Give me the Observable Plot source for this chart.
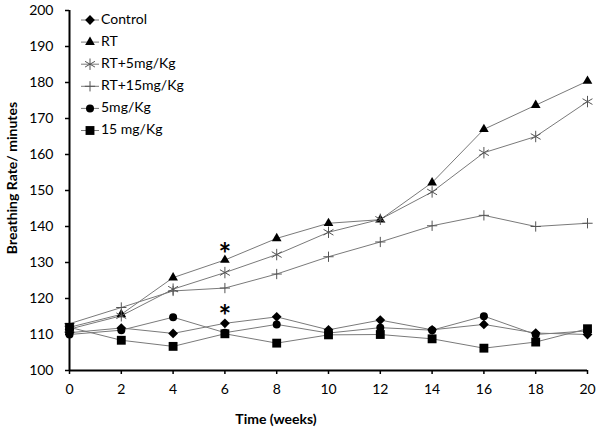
<!DOCTYPE html>
<html><head><meta charset="utf-8">
<script src="https://cdn.jsdelivr.net/npm/d3@7"></script>
<script src="https://cdn.jsdelivr.net/npm/@observablehq/plot@0.6"></script>
<style>body{margin:0;background:#fff}</style>
</head><body><div id="chart"></div>
<script>
const weeks = [0, 2, 4, 6, 8, 10, 12, 14, 16, 18, 20];
const control   = [110.5, 111.8, 110.3, 113.1, 114.9, 111.3, 114.0, 111.3, 112.8, 110.4, 110.0];
const rt        = [112.0, 115.6, 125.8, 130.7, 136.7, 140.9, 141.9, 152.2, 167.0, 173.7, 180.4];
const rt5       = [111.5, 115.2, 122.6, 127.2, 132.2, 138.4, 142.0, 149.6, 160.5, 165.0, 174.7];
const rt15      = [113.0, 117.5, 122.1, 122.9, 126.8, 131.6, 135.7, 140.2, 143.1, 140.0, 140.9];
const mg5       = [110.0, 111.2, 114.8, 110.5, 112.8, 110.4, 111.9, 111.2, 115.1, 110.0, 111.0];
const mg15      = [112.0, 108.4, 106.7, 110.2, 107.6, 109.9, 110.0, 108.8, 106.2, 107.9, 111.6];
const seriesNames = ["Control", "RT", "RT+5mg/Kg", "RT+15mg/Kg", "5mg/Kg", "15 mg/Kg"];
const seriesValues = [control, rt, rt5, rt15, mg5, mg15];
const xTicks = [0, 2, 4, 6, 8, 10, 12, 14, 16, 18, 20];
const yTicks = [100, 110, 120, 130, 140, 150, 160, 170, 180, 190, 200];
const starWeeks = [6, 6];
const starValues = [134.4, 117.2];
const xLabel = "Time (weeks)";
const yLabel = "Breathing Rate/ minutes";

const markerStyles = [
  {symbol: d3.symbolDiamond2, r: 4.4, fill: "#000", stroke: "none"},
  {symbol: d3.symbolTriangle, r: 3.6, fill: "#000", stroke: "none"},
  {symbol: d3.symbolAsterisk, r: 5.4, fill: "none", stroke: "#555"},
  {symbol: d3.symbolPlus, r: 3.4, fill: "none", stroke: "#555"},
  {symbol: d3.symbolCircle, r: 4, fill: "#000", stroke: "none"},
  {symbol: d3.symbolSquare, r: 5, fill: "#000", stroke: "none"}
];
const lineColor = "#7a7a7a";

const tables = seriesValues.map((vals, i) =>
  weeks.map((w, j) => ({week: w, value: vals[j], series: seriesNames[i]})));
const stars = starWeeks.map((w, i) => ({week: w, value: starValues[i]}));

const marks = [];
tables.forEach(t => marks.push(Plot.line(t, {x: "week", y: "value", stroke: lineColor, strokeWidth: 1})));
tables.forEach((t, i) => {
  const s = markerStyles[i];
  marks.push(Plot.dot(t, {x: "week", y: "value", symbol: s.symbol, r: s.r, fill: s.fill, stroke: s.stroke, strokeWidth: 1}));
});
marks.push(Plot.text(stars, {x: "week", y: "value", text: () => "*", fontSize: 30, fontWeight: "bold", fill: "#000", dy: 9}));
marks.push(Plot.ruleY([100], {stroke: "#000", strokeWidth: 2}));
marks.push(Plot.ruleX([0], {stroke: "#000", strokeWidth: 2}));
marks.push(Plot.axisY({ticks: yTicks, tickSize: 4, tickPadding: 12, label: null, stroke: "#000", strokeWidth: 1.5}));
marks.push(Plot.axisX({ticks: xTicks, tickSize: 4, tickPadding: 10, label: null, stroke: "#000", strokeWidth: 1.5}));

const chart = Plot.plot({
  width: 601, height: 433,
  marginTop: 10, marginBottom: 63, marginLeft: 69, marginRight: 14,
  x: {domain: [0, 20]},
  y: {domain: [100, 200]},
  style: {fontFamily: "Lato, sans-serif", fontSize: "14px", color: "#000", background: "#fff"},
  marks
});
document.getElementById("chart").appendChild(chart);

const svg = d3.select(chart);
svg.append("text").attr("x", 276).attr("y", 420).attr("text-anchor", "middle")
  .attr("dominant-baseline", "middle").attr("font-weight", "bold").attr("font-size", 14)
  .attr("fill", "#000").text(xLabel);
svg.append("text").attr("transform", "translate(13,178) rotate(-90)").attr("text-anchor", "middle")
  .attr("dominant-baseline", "middle").attr("font-weight", "bold").attr("font-size", 14)
  .attr("fill", "#000").text(yLabel);

const legend = svg.append("g");
seriesNames.forEach((name, i) => {
  const y = 20 + i * 22.1;
  const s = markerStyles[i];
  legend.append("line").attr("x1", 81).attr("x2", 99).attr("y1", y).attr("y2", y)
    .attr("stroke", lineColor).attr("stroke-width", 1);
  legend.append("path").attr("transform", `translate(90,${y})`)
    .attr("d", d3.symbol(s.symbol, s.r * s.r * Math.PI)())
    .attr("fill", s.fill).attr("stroke", s.stroke).attr("stroke-width", 1);
  legend.append("text").attr("x", 101).attr("y", y).attr("dominant-baseline", "middle")
    .attr("text-anchor", "start").attr("font-size", 14).attr("fill", "#000").text(name);
});
</script></body></html>
